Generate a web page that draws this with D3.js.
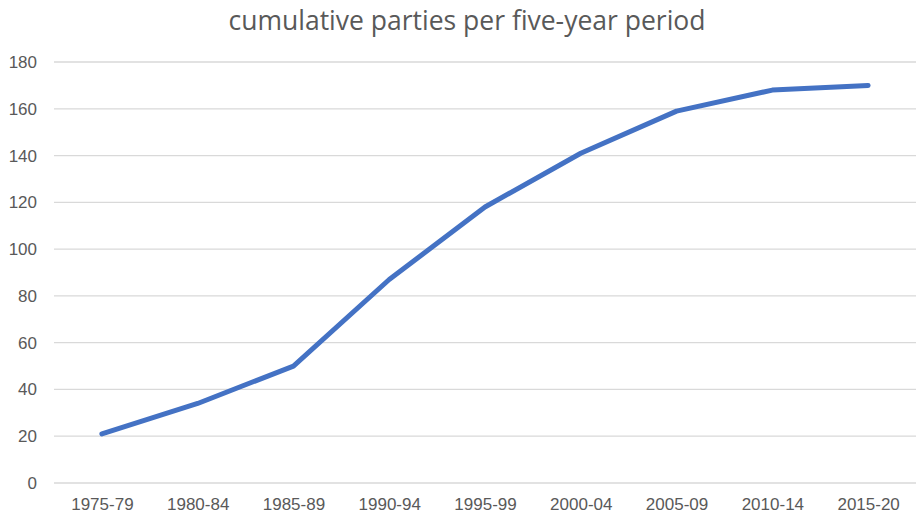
<!DOCTYPE html>
<html>
<head>
<meta charset="utf-8">
<script src="https://cdn.jsdelivr.net/npm/d3@7"></script>
<style>
  body { margin: 0; background: #fff; }
  svg { display: block; font-family: "Open Sans", sans-serif; }
</style>
</head>
<body>
<svg id="chart"></svg>
<script>
// data
const periods = ['1975-79', '1980-84', '1985-89', '1990-94', '1995-99', '2000-04', '2005-09', '2010-14', '2015-20']
const parties = [21, 34, 50, 87, 118, 141, 159, 168, 170]
const yTicks = [0, 20, 40, 60, 80, 100, 120, 140, 160, 180]
const title = 'cumulative parties per five-year period'

const width = 917
const height = 517
const margin = { top: 62, right: 1, bottom: 34, left: 54 }

const svg = d3.select('#chart')
    .attr('width', width)
    .attr('height', height)

const x = d3.scalePoint()
    .domain(periods)
    .range([margin.left, width - margin.right])
    .padding(0.5)

const y = d3.scaleLinear()
    .domain([0, 180])
    .range([height - margin.bottom, margin.top])

// gridlines
svg.append('g')
    .selectAll('line')
    .data(yTicks)
    .join('line')
    .attr('x1', margin.left)
    .attr('x2', width - margin.right)
    .attr('y1', d => y(d))
    .attr('y2', d => y(d))
    .attr('stroke', '#d9d9d9')
    .attr('stroke-width', 1.3)

// y axis labels
const yAxis = svg.append('g')
    .attr('transform', `translate(${margin.left - 17},0)`)
    .call(d3.axisLeft(y).tickValues(yTicks).tickSize(0).tickPadding(0))
yAxis.select('.domain').remove()
yAxis.selectAll('text')
    .attr('fill', '#595959')
    .style('font-size', '17px')

// x axis labels
const xAxis = svg.append('g')
    .attr('transform', `translate(0,${height - margin.bottom})`)
    .call(d3.axisBottom(x).tickSize(0).tickPadding(15))
xAxis.select('.domain').remove()
xAxis.selectAll('text')
    .attr('fill', '#595959')
    .style('font-size', '17px')

// line
const line = d3.line()
    .x((d, i) => x(periods[i]))
    .y(d => y(d))

svg.append('path')
    .datum(parties)
    .attr('d', line)
    .attr('fill', 'none')
    .attr('stroke', '#4472C4')
    .attr('stroke-width', 5)
    .attr('stroke-linejoin', 'round')
    .attr('stroke-linecap', 'round')

// title
svg.append('text')
    .attr('x', 467)
    .attr('y', 30)
    .attr('text-anchor', 'middle')
    .attr('fill', '#595959')
    .style('font-size', '26.5px')
    .text(title)
</script>
</body>
</html>
